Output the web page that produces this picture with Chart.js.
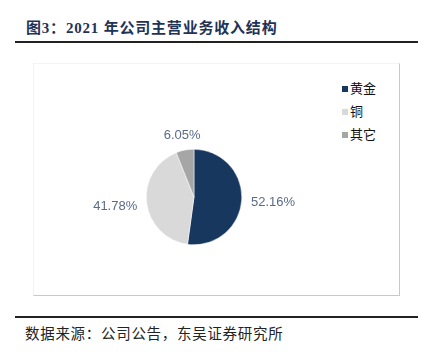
<!DOCTYPE html>
<html>
<head>
<meta charset="utf-8">
<script src="https://cdn.jsdelivr.net/npm/chart.js@4/dist/chart.umd.min.js"></script>
<style>
  body { margin: 0; background: #fff; width: 433px; height: 352px; position: relative; overflow: hidden; }
  .title { position: absolute; left: 26px; top: 16px; font: bold 15px "Liberation Serif", "Noto Sans CJK SC", serif; color: #1f3356; letter-spacing: 0.8px; }
  .rule { position: absolute; left: 15px; width: 403px; height: 2px; background: #222; }
  .box { position: absolute; left: 33px; top: 63px; width: 365px; height: 231px; border-top: 1px solid #f3f3f3; border-left: 1px solid #f3f3f3; border-right: 1px solid #c8c8c8; border-bottom: 1px solid #c8c8c8; }
  #wrap { position: absolute; left: 64px; top: 97px; width: 260px; height: 200px; }
  .legend { position: absolute; left: 342px; top: 80px; font: 13px "Noto Sans CJK SC", sans-serif; color: #111; }
  .legend div { height: 23px; line-height: 16px; }
  .legend span { display: inline-block; width: 6px; height: 6px; margin-right: 2px; vertical-align: 1px; }
  .source { position: absolute; left: 25px; top: 322px; font: 14.5px "Noto Sans CJK SC", sans-serif; color: #222; letter-spacing: 0.7px; }
</style>
</head>
<body>
<div class="title">图3：2021 年公司主营业务收入结构</div>
<div class="rule" style="top:41px"></div>
<div class="box"></div>
<div id="wrap"><canvas id="myChart"></canvas></div>
<div class="legend" id="legend"></div>
<div class="rule" style="top:316px"></div>
<div class="source">数据来源：公司公告，东吴证券研究所</div>
<script>
const categories = ['黄金', '铜', '其它'];
const shares = [52.16, 41.78, 6.05];
const colors = ['#17375e', '#d9d9d9', '#a6a6a6'];

// legend
const legend = document.getElementById('legend');
categories.forEach((c, i) => {
  const d = document.createElement('div');
  d.innerHTML = '<span style="background:' + colors[i] + '"></span>' + c;
  legend.appendChild(d);
});

// outside labels
const outsideLabels = {
  id: 'outsideLabels',
  afterDatasetsDraw(chart) {
    const ctx = chart.ctx;
    ctx.save();
    ctx.font = '13px "Liberation Sans", Arial, sans-serif';
    ctx.fillStyle = '#5a6b8a';
    ctx.textAlign = 'center';
    ctx.textBaseline = 'middle';
    chart.getDatasetMeta(0).data.forEach((arc, i) => {
      const p = arc.getProps(['x', 'y', 'startAngle', 'endAngle', 'outerRadius'], true);
      const mid = (p.startAngle + p.endAngle) / 2;
      const dx = Math.cos(mid), dy = Math.sin(mid);
      const txt = shares[i].toFixed(2) + '%';
      const w = ctx.measureText(txt).width, h = 13;
      // distance so the text box edge sits just outside the pie
      const ext = Math.abs(dx) * w / 2 + Math.abs(dy) * h / 2;
      const r = p.outerRadius + 4 + 5 * Math.abs(dx) + ext;
      ctx.fillText(txt, p.x + dx * r, p.y + dy * r);
    });
    ctx.restore();
  }
};

new Chart(document.getElementById('myChart'), {
  type: 'pie',
  data: {
    labels: categories,
    datasets: [{
      data: shares,
      backgroundColor: colors,
      borderColor: '#ffffff',
      borderWidth: 0.5
    }]
  },
  options: {
    responsive: true,
    maintainAspectRatio: false,
    animation: false,
    layout: { padding: { top: 52, bottom: 52, left: 0, right: 0 } },
    plugins: {
      legend: { display: false },
      tooltip: { enabled: false }
    }
  },
  plugins: [outsideLabels]
});
</script>
</body>
</html>
